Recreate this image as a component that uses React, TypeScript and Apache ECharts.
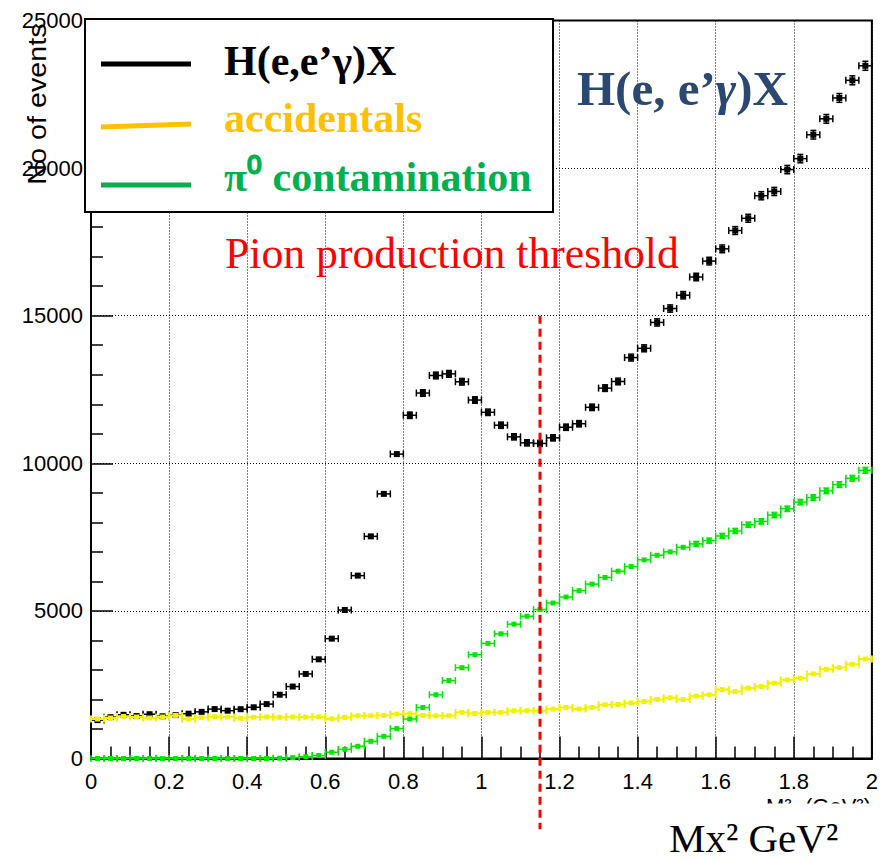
import React, { useEffect, useRef } from "react";
import * as echarts from "echarts";

// Histogram binning (60 bins over 0..2 GeV^2)
const nBins = 60;
const xMin = 0;
const xMax = 2;
const binWidth = (xMax - xMin) / nBins;
const binCenters: number[] = Array.from({ length: nBins }, (_, i) => xMin + (i + 0.5) * binWidth);

// H(e,e'gamma)X (black)
const hegxValues: number[] = [
  1300, 1400, 1480, 1440, 1500, 1430, 1470, 1517, 1580, 1674,
  1620, 1670, 1735, 1843, 2160, 2437, 2865, 3360, 4060, 5030,
  6195, 7525, 8964, 10312, 11627, 12380, 12975, 13030, 12762, 12143,
  11728, 11290, 10896, 10693, 10673, 10862, 11222, 11340, 11896, 12547,
  12772, 13581, 13895, 14771, 15243, 15694, 16311, 16850, 17265, 17885,
  18300, 19064, 19209, 19950, 20321, 21130, 21669, 22377, 22973, 23466,
];

// accidentals (yellow)
const accidentalValues: number[] = [
  1338, 1372, 1426, 1405, 1372, 1405, 1460, 1338, 1390, 1415,
  1405, 1360, 1400, 1410, 1395, 1405, 1400, 1410, 1345, 1392,
  1449, 1449, 1460, 1506, 1517, 1460, 1449, 1449, 1562, 1528,
  1562, 1562, 1618, 1618, 1618, 1674, 1729, 1675, 1729, 1820,
  1830, 1877, 1931, 1998, 2056, 1998, 2113, 2157, 2336, 2268,
  2382, 2437, 2551, 2662, 2720, 2865, 3023, 3077, 3191, 3370,
];

// pi0 contamination (green)
const pi0Values: number[] = [
  0, 0, 0, 0, 0, 0, 0, 0, 0, 0,
  0, 0, 0, 0, 10, 30, 60, 100, 212, 310,
  415, 583, 752, 1011, 1338, 1729, 2157, 2639, 3077, 3515,
  3899, 4223, 4550, 4819, 5045, 5267, 5470, 5685, 5908, 6133,
  6346, 6504, 6730, 6886, 7000, 7155, 7269, 7380, 7539, 7707,
  7920, 8031, 8247, 8459, 8685, 8840, 9066, 9278, 9494, 9763,
];

// Pion production threshold (dashed red line)
const thresholdLine: number[][] = [
  [1.15, 15000],
  [1.15, -2400],
];

const xTickLabels = ["0", "0.2", "0.4", "0.6", "0.8", "1", "1.2", "1.4", "1.6", "1.8", "2"];
const yTickLabels = ["0", "5000", "10000", "15000", "20000", "25000"];

const legendNames = ["H(e,e’γ)X", "accidentals", "π⁰ contamination"];
const yAxisTitle = "No of events";
const plotTitle = "H(e, e’{g|γ})X";
const thresholdText = "Pion production threshold";
const xAxisTitle = "Mx² GeV²";
const cutAxisTitle = "M²ₓ (GeV²)";

function histSeries(name: string, values: number[], color: string, z: number, marker: number, lw: number) {
  return {
    type: "custom",
    name,
    z,
    silent: true,
    data: values.map((v, i) => [binCenters[i], v]),
    renderItem: (params: any, api: any) => {
      const x = api.value(0);
      const y = api.value(1);
      const c = api.coord([x, y]);
      const l = api.coord([x - binWidth / 2, y]);
      const r = api.coord([x + binWidth / 2, y]);
      const e = Math.sqrt(Math.max(y, 0));
      const t = api.coord([x, y + e]);
      const b = api.coord([x, Math.max(y - e, 0)]);
      const style = { stroke: color, lineWidth: lw, fill: "none" };
      const cap = 3.5;
      const children: any[] = [
        { type: "line", shape: { x1: l[0], y1: c[1], x2: r[0], y2: c[1] }, style },
        { type: "line", shape: { x1: l[0], y1: c[1] - cap, x2: l[0], y2: c[1] + cap }, style },
        { type: "line", shape: { x1: r[0], y1: c[1] - cap, x2: r[0], y2: c[1] + cap }, style },
      ];
      if (c[1] - t[1] > marker / 2) {
        children.push({ type: "line", shape: { x1: c[0], y1: t[1], x2: c[0], y2: b[1] }, style });
        children.push({ type: "line", shape: { x1: c[0] - 3, y1: t[1], x2: c[0] + 3, y2: t[1] }, style });
        children.push({ type: "line", shape: { x1: c[0] - 3, y1: b[1], x2: c[0] + 3, y2: b[1] }, style });
      }
      children.push({
        type: "rect",
        shape: { x: c[0] - marker / 2, y: c[1] - marker / 2, width: marker, height: marker },
        style: { fill: color, stroke: "none" },
      });
      return { type: "group", children };
    },
  };
}

export default function App() {
  const ref = useRef<HTMLDivElement>(null);

  useEffect(() => {
    if (!ref.current) return;
    const chart = echarts.init(ref.current, undefined, { renderer: "svg" });
    const axisCommon = {
      axisLine: { show: true, onZero: false, lineStyle: { color: "#000", width: 2 } },
      axisTick: { show: true, inside: true, length: 22, lineStyle: { color: "#000", width: 1.5 } },
      splitLine: { show: true, lineStyle: { color: "#000", width: 1, type: [1, 2] } },
    };
    const serif = "'Liberation Serif', 'Times New Roman', serif";
    const sans = "'Liberation Sans', Arial, sans-serif";
    chart.setOption({
      animation: false,
      backgroundColor: "#fff",
      grid: {
        left: 91,
        right: 8.5,
        top: 20.5,
        bottom: 101.5,
        show: true,
        borderColor: "#000",
        borderWidth: 2,
        backgroundColor: "transparent",
      },
      xAxis: {
        type: "value",
        min: xMin,
        max: xMax,
        interval: 0.2,
        ...axisCommon,
        minorTick: { show: true, splitNumber: 4, length: 12, lineStyle: { color: "#000", width: 1.5 } },
        axisLabel: {
          color: "#000",
          fontSize: 22,
          fontFamily: sans,
          margin: 12,
          formatter: (v: number) => xTickLabels[Math.round(v / 0.2)] ?? "",
        },
      },
      yAxis: {
        type: "value",
        min: 0,
        max: 25000,
        interval: 5000,
        ...axisCommon,
        minorTick: { show: true, splitNumber: 5, length: 12, lineStyle: { color: "#000", width: 1.5 } },
        axisLabel: {
          color: "#000",
          fontSize: 22,
          fontFamily: sans,
          margin: 8,
          formatter: (v: number) => yTickLabels[Math.round(v / 5000)] ?? "",
        },
      },
      series: [
        histSeries(legendNames[0], hegxValues, "#000000", 2, 6, 1.5),
        histSeries(legendNames[1], accidentalValues, "#f2f200", 3, 5, 2),
        histSeries(legendNames[2], pi0Values, "#00e600", 4, 5, 1.5),
        {
          type: "line",
          name: thresholdText,
          data: thresholdLine,
          symbol: "none",
          clip: false,
          silent: true,
          z: 6,
          lineStyle: { color: "#ff0000", width: 3, type: [8, 5] },
        },
      ],
      graphic: [
        // y axis title
        {
          type: "text",
          x: 38,
          y: 104,
          rotation: Math.PI / 2,
          scaleX: 1.15,
          z: 50,
          style: {
            text: yAxisTitle,
            fill: "#000",
            fontSize: 25,
            fontFamily: sans,
            align: "center",
            textAlign: "center",
            verticalAlign: "middle",
            textVerticalAlign: "middle",
          },
        },
        // partial (cut) axis title of the original plot
        {
          type: "text",
          x: 871,
          y: 815,
          z: 50,
          style: {
            text: cutAxisTitle,
            fill: "#000",
            fontSize: 22,
            lineHeight: 18,
            fontFamily: sans,
            align: "right",
            textAlign: "right",
            verticalAlign: "bottom",
            textVerticalAlign: "bottom",
          },
        },
        {
          type: "rect",
          z: 60,
          shape: { x: 740, y: 803.5, width: 141, height: 19 },
          style: { fill: "#fff", stroke: "none" },
        },
        // legend box
        {
          type: "rect",
          z: 100,
          shape: { x: 85, y: 19, width: 468, height: 193 },
          style: { fill: "#fff", stroke: "#000", lineWidth: 2 },
        },
        { type: "line", z: 101, shape: { x1: 101, y1: 64, x2: 191, y2: 64 }, style: { stroke: "#000", lineWidth: 5 } },
        { type: "line", z: 101, shape: { x1: 101, y1: 127, x2: 191, y2: 124 }, style: { stroke: "#ffc000", lineWidth: 5 } },
        { type: "line", z: 101, shape: { x1: 101, y1: 185, x2: 191, y2: 185 }, style: { stroke: "#00b050", lineWidth: 5 } },
        {
          type: "text",
          z: 101,
          x: 224,
          y: 61,
          style: {
            text: legendNames[0],
            fill: "#000",
            fontSize: 42,
            fontWeight: "bold",
            fontFamily: serif,
            verticalAlign: "middle",
            textVerticalAlign: "middle",
          },
        },
        {
          type: "text",
          z: 101,
          x: 224,
          y: 118,
          style: {
            text: legendNames[1],
            fill: "#ffc000",
            fontSize: 42,
            fontWeight: "bold",
            fontFamily: serif,
            verticalAlign: "middle",
            textVerticalAlign: "middle",
          },
        },
        {
          type: "text",
          z: 101,
          x: 224,
          y: 177,
          style: {
            text: legendNames[2],
            fill: "#00b050",
            fontSize: 42,
            fontWeight: "bold",
            fontFamily: serif,
            verticalAlign: "middle",
            textVerticalAlign: "middle",
          },
        },
        // plot title (top right)
        {
          type: "text",
          z: 80,
          x: 577,
          y: 88,
          style: {
            text: plotTitle,
            fill: "#2a4870",
            fontSize: 49,
            fontWeight: "bold",
            fontFamily: serif,
            verticalAlign: "middle",
            textVerticalAlign: "middle",
            rich: {
              g: { fontSize: 49, fontWeight: "bold", fontStyle: "italic", fontFamily: serif, fill: "#2a4870" },
            },
          },
        },
        // threshold label
        {
          type: "text",
          z: 80,
          x: 225,
          y: 252.5,
          style: {
            text: thresholdText,
            fill: "#ff0000",
            fontSize: 43.7,
            fontFamily: serif,
            verticalAlign: "middle",
            textVerticalAlign: "middle",
          },
        },
        // x axis title (bottom right)
        {
          type: "text",
          z: 80,
          x: 669,
          y: 838,
          style: {
            text: xAxisTitle,
            fill: "#000",
            fontSize: 41,
            fontFamily: serif,
            verticalAlign: "middle",
            textVerticalAlign: "middle",
          },
        },
      ],
    });
    return () => chart.dispose();
  }, []);

  return (
    <div
      ref={ref}
      style={{ position: "absolute", left: 0, top: 0, width: 881, height: 860, background: "#fff" }}
    />
  );
}
